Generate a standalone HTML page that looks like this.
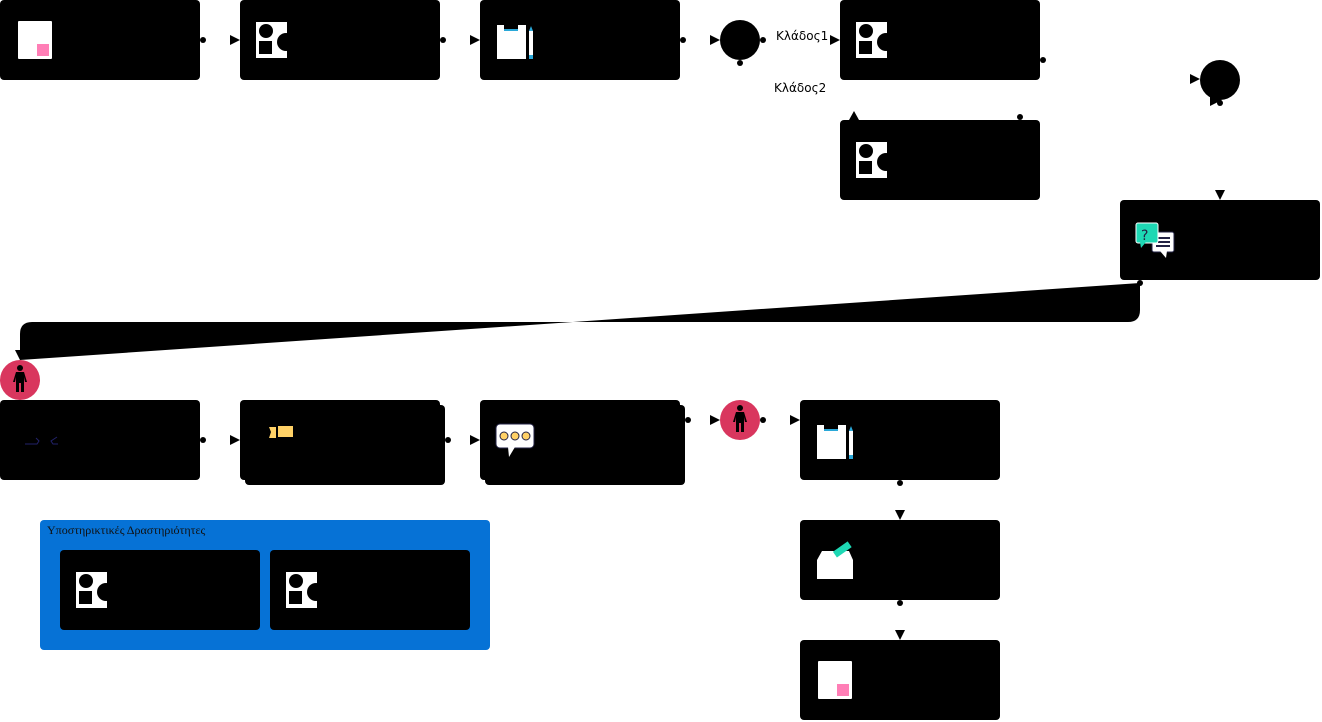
<!DOCTYPE html>
<html><head><meta charset="utf-8"><style>
html,body{margin:0;padding:0;background:#fff;width:1322px;height:722px;overflow:hidden}
svg{display:block}
</style></head><body>
<svg width="1322" height="722" viewBox="0 0 1322 722" xmlns="http://www.w3.org/2000/svg">
<!-- wedge connector -->
<path d="M1140,283 L1140,310 Q1140,322 1128,322 L32,322 Q20,322 20,334 L20,360 Z" fill="#000"/>
<polygon points="15,350 25,350 20,360" fill="#000"/>

<!-- blue group -->
<rect x="40" y="520" width="450" height="130" rx="4" fill="#0672d6"/>
<text x="47" y="534" font-family="Liberation Serif, serif" font-size="12" fill="#111">Υποστηρικτικές Δραστηριότητες</text>

<!-- boxes -->
<g fill="#000">
<rect x="0" y="0" width="200" height="80" rx="4"/>
<rect x="240" y="0" width="200" height="80" rx="4"/>
<rect x="480" y="0" width="200" height="80" rx="4"/>
<rect x="840" y="0" width="200" height="80" rx="4"/>
<rect x="840" y="120" width="200" height="80" rx="4"/>
<rect x="1120" y="200" width="200" height="80" rx="4"/>
<rect x="0" y="400" width="200" height="80" rx="4"/>
<rect x="245" y="405" width="200" height="80" rx="4"/>
<rect x="240" y="400" width="200" height="80" rx="4"/>
<rect x="485" y="405" width="200" height="80" rx="4"/>
<rect x="480" y="400" width="200" height="80" rx="4"/>
<rect x="800" y="400" width="200" height="80" rx="4"/>
<rect x="800" y="520" width="200" height="80" rx="4"/>
<rect x="800" y="640" width="200" height="80" rx="4"/>
<rect x="60" y="550" width="200" height="80" rx="4"/>
<rect x="270" y="550" width="200" height="80" rx="4"/>
<circle cx="740" cy="40" r="20"/>
<circle cx="1220" cy="80" r="20"/>
<polygon points="1210,96 1222,100 1210,106"/>
</g>

<!-- person circles -->
<g>
<circle cx="20" cy="380" r="20" fill="#d9365e"/>
<circle cx="740" cy="420" r="20" fill="#d9365e"/>
</g>
<g fill="#000">
<g transform="translate(20,380)"><circle cx="0" cy="-12" r="3"/><path d="M-4,-8 L4,-8 L7,2 L5,2 L4,-3 L4,12 L1,12 L1,3 L-1,3 L-1,12 L-4,12 L-4,-3 L-5,2 L-7,2 Z"/></g>
<g transform="translate(740,420)"><circle cx="0" cy="-12" r="3"/><path d="M-4,-8 L4,-8 L7,2 L5,2 L4,-3 L4,12 L1,12 L1,3 L-1,3 L-1,12 L-4,12 L-4,-3 L-5,2 L-7,2 Z"/></g>
</g>

<!-- connector dots -->
<g fill="#000">
<circle cx="203" cy="40" r="3"/><circle cx="443" cy="40" r="3"/><circle cx="683" cy="40" r="3"/>
<circle cx="763" cy="40" r="3"/><circle cx="740" cy="63" r="3"/>
<circle cx="1043" cy="60" r="3"/><circle cx="1020" cy="117" r="3"/>
<circle cx="1220" cy="103" r="3"/><circle cx="1140" cy="283" r="3"/>
<circle cx="203" cy="440" r="3"/><circle cx="448" cy="440" r="3"/><circle cx="688" cy="420" r="3"/>
<circle cx="763" cy="420" r="3"/><circle cx="900" cy="483" r="3"/><circle cx="900" cy="603" r="3"/>
</g>
<!-- arrowheads -->
<g fill="#000">
<polygon points="230,35 240,40 230,45"/>
<polygon points="470,35 480,40 470,45"/>
<polygon points="710,35 720,40 710,45"/>
<polygon points="830,35 840,40 830,45"/>
<polygon points="1190,74 1200,79 1190,84"/>
<polygon points="849,120 854,111 859,120"/>
<polygon points="1215,190 1225,190 1220,200"/>
<polygon points="230,435 240,440 230,445"/>
<polygon points="470,435 480,440 470,445"/>
<polygon points="710,415 720,420 710,425"/>
<polygon points="790,415 800,420 790,425"/>
<polygon points="895,510 905,510 900,520"/>
<polygon points="895,630 905,630 900,640"/>
</g>
<text x="776" y="40" font-family="DejaVu Sans, sans-serif" font-size="12" fill="#000">Κλάδος1</text>
<text x="774" y="92" font-family="DejaVu Sans, sans-serif" font-size="12" fill="#000">Κλάδος2</text>

<!-- doc icons -->
<g>
<rect x="18" y="21" width="34" height="38" rx="1" fill="#fff"/><rect x="37" y="44" width="12" height="12" fill="#ff7eb6"/>
<rect x="818" y="661" width="34" height="38" rx="1" fill="#fff"/><rect x="837" y="684" width="12" height="12" fill="#ff7eb6"/>
</g>

<!-- shape icons -->
<defs>
<g id="shp">
<rect x="0" y="0" width="31" height="36" fill="#fff"/>
<ellipse cx="10" cy="9" rx="7" ry="7" fill="#000"/>
<rect x="3" y="19" width="13" height="13" fill="#000"/>
<circle cx="30" cy="20" r="9" fill="#000"/>
</g>
<g id="clip">
<rect x="0" y="0" width="29" height="34" fill="#fff"/>
<rect x="7" y="0" width="14" height="5" fill="#000"/>
<rect x="7" y="4" width="14" height="2" fill="#2aa8d8"/>
<rect x="32" y="6" width="4" height="28" fill="#fff"/>
<rect x="32" y="30" width="4" height="4" fill="#2aa8d8"/>
<polygon points="32,6 34,1 36,6" fill="#2aa8d8"/>
</g>
</defs>
<use href="#shp" x="256" y="22"/>
<use href="#shp" x="856" y="22"/>
<use href="#shp" x="856" y="142"/>
<use href="#shp" x="76" y="572"/>
<use href="#shp" x="286" y="572"/>
<use href="#clip" x="497" y="25"/>
<use href="#clip" x="817" y="425"/>

<!-- chat icon -->
<g>
<rect x="1152" y="232" width="22" height="20" rx="2" fill="#fff" stroke="#222244"/>
<polygon points="1160,251 1167,251 1166,258" fill="#fff"/>
<rect x="1158" y="237" width="12" height="2" fill="#222244"/><rect x="1158" y="241" width="12" height="2" fill="#222244"/><rect x="1156" y="245" width="14" height="2" fill="#222244"/>
<rect x="1136" y="223" width="22" height="20" rx="2" fill="#1ed8b4" stroke="#fff"/>
<polygon points="1140,242 1146,242 1141,248" fill="#1ed8b4"/>
<text x="1141" y="240" font-family="DejaVu Sans, sans-serif" font-size="14" fill="#222244">?</text>
</g>

<!-- speech bubble -->
<g>
<rect x="496" y="424" width="38" height="24" rx="4" fill="#fff" stroke="#222244"/>
<polygon points="508,447 515,447 509,457" fill="#fff"/>
<circle cx="504" cy="436" r="4" fill="#ffd166" stroke="#222244"/>
<circle cx="515" cy="436" r="4" fill="#ffd166" stroke="#222244"/>
<circle cx="526" cy="436" r="4" fill="#ffd166" stroke="#222244"/>
</g>

<!-- flag -->
<g><polygon points="269,427 276,427 276,438 269,438 271,432" fill="#ffd166"/><rect x="278" y="426" width="15" height="11" fill="#ffd166"/></g>

<!-- small blue marks -->
<g stroke="#22226a" stroke-width="1" fill="none">
<path d="M25,444 L37,444 L39,441 L36,438"/><path d="M57,437 L51,441 L53,444 L58,444"/>
</g>

<!-- ballot box -->
<g>
<polygon points="822,551 849,551 853,560 853,579 817,579 817,560" fill="#fff"/>
<rect x="833" y="546" width="18" height="7" fill="#1ed8b4" transform="rotate(-35 842 549)"/>
</g>
</svg>
</body></html>
